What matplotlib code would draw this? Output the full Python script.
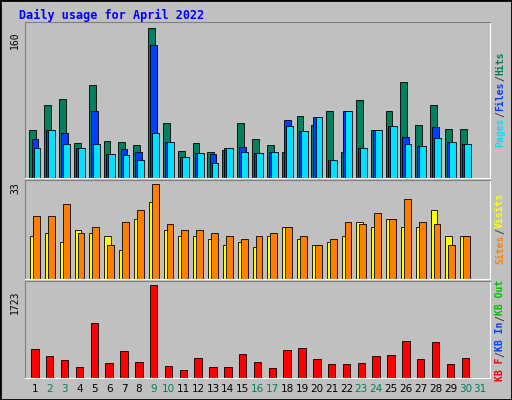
import matplotlib
matplotlib.use("Agg")
import matplotlib.pyplot as plt
import numpy as np

days = list(range(1, 32))
hits  = [51,77,84,37,98,39,38,35,159,58,29,37,28,30,58,41,35,27,66,56,71,28,82,51,71,102,56,77,52,52]
files = [41,51,48,32,71,25,31,27,141,38,22,26,25,32,33,26,27,61,50,65,19,71,32,51,55,43,34,54,38,36]
pages = [32,51,36,32,36,25,24,19,48,38,22,26,16,32,27,26,27,55,50,65,19,71,32,51,55,36,34,42,38,36]
visits = [15,16,13,17,16,15,10,21,27,17,15,15,14,12,13,11,15,18,14,12,13,15,20,18,21,18,18,24,15,15]
sites  = [22,22,26,16,18,12,20,24,33,19,17,17,16,15,14,15,16,18,15,12,14,20,19,23,21,28,20,19,12,15]
kbytes = [543,412,337,206,1011,281,506,300,1723,225,150,375,206,206,450,300,187,524,562,356,262,262,281,412,431,674,356,656,262,375]
weekend = {2,3,9,10,16,17,23,24,30,31}

W, H = 512, 400
fig = plt.figure(figsize=(5.12, 4.0), dpi=100, facecolor="#C0C0C0")
fig.add_artist(plt.Rectangle((0, 0), 1, 1, transform=fig.transFigure, fill=False, ec="black", lw=2))
fig.text(19/W, 1-15/H, "Daily usage for April 2022", color="#0000FF", family="DejaVu Sans Mono",
         weight="bold", fontsize=8.5, va="center")

def panel(y0, y1):
    ax = fig.add_axes([25/W, 1-y1/H, (490-25)/W, (y1-y0)/H])
    ax.set_facecolor("#C0C0C0")
    ax.set_xlim(0.33, 31.67)
    ax.set_xticks([])
    ax.set_yticks([])
    for s in ("top", "left"):
        ax.spines[s].set_color("#808080")
    for s in ("bottom", "right"):
        ax.spines[s].set_color("white")
    return ax

def rlabel(yc, parts):
    total = sum(len(t) for t, c in parts)
    ch = 6.0
    ypos = yc + total*ch/2
    for t, c in parts:
        fig.text(500/W, 1-ypos/H, t, rotation=90, color=c, fontsize=7, family="DejaVu Sans Mono",
                 weight="bold", ha="center", va="bottom")
        ypos -= len(t)*ch

x = np.array(days[:30], dtype=float)
bw = 0.46

ax1 = panel(22, 178)
ax1.set_ylim(0, 165)
ax1.bar(x - 0.14, hits, bw, color="#00805C", ec="black", lw=0.6)
ax1.bar(x + 0.0, files, bw, color="#0040FF", ec="black", lw=0.6)
ax1.bar(x + 0.14, pages, bw, color="#00E0FF", ec="black", lw=0.6)
fig.text(15/W, 1-40/H, "160", rotation=90, fontsize=7, family="DejaVu Sans Mono", ha="center", va="center")
rlabel(99, [("Pages", "#00E0FF"), ("/", "#404040"), ("Files", "#0040FF"), ("/", "#404040"), ("Hits", "#00805C")])

ax2 = panel(180, 279)
ax2.set_ylim(0, 34.5)
ax2.bar(x - 0.1, visits, bw, color="#FFFF00", ec="black", lw=0.6)
ax2.bar(x + 0.1, sites, bw, color="#FF8000", ec="black", lw=0.6)
fig.text(15/W, 1-188/H, "33", rotation=90, fontsize=7, family="DejaVu Sans Mono", ha="center", va="center")
rlabel(228, [("Sites", "#FF8000"), ("/", "#404040"), ("Visits", "#FFFF00")])

ax3 = panel(281, 378)
ax3.set_ylim(0, 1790)
ax3.bar(x, kbytes, 0.5, color="#FF0000", ec="black", lw=0.6)
fig.text(15/W, 1-302/H, "1723", rotation=90, fontsize=7, family="DejaVu Sans Mono", ha="center", va="center")
rlabel(330, [("KB F", "#FF0000"), ("/", "#404040"), ("KB In", "#0040FF"), ("/", "#404040"), ("KB Out", "#00C000")])

for d in days:
    xp = 25 + (d - 0.33) / (31.67 - 0.33) * 465
    fig.text(xp/W, 1-389/H, str(d), color="#00805C" if d in weekend else "black",
             fontsize=7.5, ha="center", va="center")

fig.savefig("out.png", dpi=100, facecolor=fig.get_facecolor())
